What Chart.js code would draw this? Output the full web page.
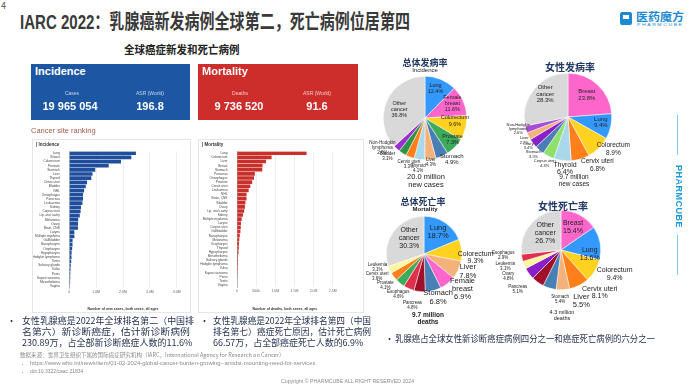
<!DOCTYPE html>
<html>
<head>
<meta charset="utf-8">
<script src="https://cdn.jsdelivr.net/npm/chart.js@4.4.1/dist/chart.umd.min.js"></script>
<style>
  html, body { margin: 0; padding: 0; background: #fff; }
  #slide { position: relative; width: 692px; height: 389px; overflow: hidden; background: #fff;
           font-family: "Noto Sans CJK SC", "Liberation Sans", sans-serif; }
  .t { position: absolute; white-space: nowrap; line-height: 1; z-index: 2; transform-origin: left top; }
  .c { text-align: center; width: 120px; }
  .box { position: absolute; }
  canvas { position: absolute; z-index: 1; }
  .lat { font-family: "Liberation Sans", Arial, sans-serif; }
</style>
</head>
<body>
<div id="slide">
  <div class="t" style="left:1px;top:1px;font-size:9px;color:#555;">4</div>
  <div class="t" data-w="390" style="left:20px;top:11px;font-size:20px;font-weight:bold;color:#3a3a3a;"><span class="lat">IARC 2022</span>：乳腺癌新发病例全球第二，死亡病例位居第四</div>

  <!-- logo -->
  <div class="box" style="left:620px;top:12px;width:12px;height:13px;background:#1b8ad3;border-radius:2px;"></div>
  <div class="box" style="left:623px;top:15px;width:6px;height:4px;background:#fff;"></div>
  <div class="t" data-w="48" style="left:636px;top:11px;font-size:11px;font-weight:bold;color:#1b8ad3;">医药魔方</div>
  <div class="t lat" data-w="46" style="left:637px;top:24px;font-size:3.5px;color:#1b8ad3;letter-spacing:1px;">PHARMCUBE</div>

  <div class="t" data-w="116" style="left:124px;top:44px;font-size:11.5px;font-weight:bold;color:#222;">全球癌症新发和死亡病例</div>

  <!-- headline boxes -->
  <div class="box" style="left:31px;top:64px;width:159px;height:56px;background:#1d57a3;"></div>
  <div class="t lat" style="left:35px;top:66px;font-size:11px;font-weight:bold;color:#fff;">Incidence</div>
  <div class="t lat c" style="left:12px;top:91px;font-size:5px;color:#c9d6ee;">Cases</div>
  <div class="t lat c" style="left:10px;top:101px;font-size:11px;font-weight:bold;color:#fff;">19 965 054</div>
  <div class="t lat c" style="left:90px;top:91px;font-size:5px;color:#c9d6ee;">ASR (World)</div>
  <div class="t lat c" style="left:90px;top:101px;font-size:11px;font-weight:bold;color:#fff;">196.8</div>

  <div class="box" style="left:198px;top:64px;width:160px;height:56px;background:#cd2e2b;"></div>
  <div class="t lat" style="left:202px;top:66px;font-size:11px;font-weight:bold;color:#fff;">Mortality</div>
  <div class="t lat c" style="left:180px;top:91px;font-size:5px;color:#f3c9c6;">Deaths</div>
  <div class="t lat c" style="left:179px;top:101px;font-size:11px;font-weight:bold;color:#fff;">9 736 520</div>
  <div class="t lat c" style="left:257px;top:91px;font-size:5px;color:#f3c9c6;">ASR (World)</div>
  <div class="t lat c" style="left:257px;top:101px;font-size:11px;font-weight:bold;color:#fff;">91.6</div>

  <div class="t lat" style="left:31px;top:127px;font-size:7.5px;color:#a4584c;">Cancer site ranking</div>

  <!-- ranking panels -->
  <div class="box" style="left:32px;top:139px;width:157px;height:172px;border:1px solid #e6e6e6;"></div>
  <div class="box" style="left:198px;top:139px;width:164px;height:172px;border:1px solid #e6e6e6;"></div>
  <div class="t lat" style="left:36px;top:143px;font-size:4.5px;font-weight:bold;color:#333;">| Incidence</div>
  <div class="t lat" style="left:202px;top:143px;font-size:4.5px;font-weight:bold;color:#333;">| Mortality</div>
  <canvas id="incBar" width="152" height="172" style="left:33px;top:140px;width:152px;height:172px;"></canvas>
  <canvas id="mortBar" width="160" height="172" style="left:199px;top:140px;width:160px;height:172px;"></canvas>

  <!-- pie titles -->
  <div class="t c" style="left:365px;top:58px;font-size:9px;font-weight:bold;color:#203864;">总体发病率</div>
  <div class="t lat c" style="left:365px;top:67px;font-size:6px;color:#222;">Incidence</div>
  <div class="t c" style="left:510px;top:62px;font-size:10px;font-weight:bold;color:#203864;">女性发病率</div>
  <div class="t c" style="left:363px;top:197px;font-size:9px;font-weight:bold;color:#203864;">总体死亡率</div>
  <div class="t lat c" style="left:365px;top:206px;font-size:6px;font-weight:bold;color:#222;">Mortality</div>
  <div class="t c" style="left:503px;top:201px;font-size:10px;font-weight:bold;color:#203864;">女性死亡率</div>

  <canvas id="pieAllInc" width="170" height="130"></canvas>
  <canvas id="pieFemInc" width="170" height="130"></canvas>
  <canvas id="pieAllMort" width="170" height="130"></canvas>
  <canvas id="pieFemMort" width="170" height="130"></canvas>

  <div class="t lat c" style="left:366px;top:173px;font-size:7.5px;color:#222;">20.0 million</div>
  <div class="t lat c" style="left:366px;top:181px;font-size:7.5px;color:#222;">new cases</div>
  <div class="t lat c" style="left:514px;top:174px;font-size:6.5px;color:#222;">9.7 million</div>
  <div class="t lat c" style="left:514px;top:181px;font-size:6.5px;color:#222;">new cases</div>
  <div class="t lat c" style="left:368px;top:312px;font-size:6.5px;font-weight:bold;color:#222;">9.7 million</div>
  <div class="t lat c" style="left:368px;top:319px;font-size:6.5px;font-weight:bold;color:#222;">deaths</div>
  <div class="t lat c" style="left:502px;top:310px;font-size:5.5px;color:#222;">4.3 million</div>
  <div class="t lat c" style="left:502px;top:316px;font-size:5.5px;color:#222;">deaths</div>

  <!-- brand strip -->
  <div class="box" style="left:677px;top:115px;width:1px;height:40px;background:#7ec8e8;"></div>
  <div class="t lat" style="left:683px;top:165px;font-size:9px;font-weight:bold;color:#1a9bd7;transform:rotate(90deg);letter-spacing:0.5px;">PHARMCUBE</div>
  <div class="box" style="left:677px;top:235px;width:1px;height:40px;background:#7ec8e8;"></div>

  <!-- bullets -->
  <div class="t" style="left:7px;top:316px;font-size:9px;color:#25324f;">•</div>
  <div class="t" data-w="172" style="left:22px;top:316px;font-size:9px;color:#25324f;">女性乳腺癌是2022年全球排名第二（中国排</div>
  <div class="t" data-w="168" style="left:22px;top:327px;font-size:9px;color:#25324f;">名第六）新诊断癌症，估计新诊断病例</div>
  <div class="t" data-w="170" style="left:22px;top:338px;font-size:9px;color:#25324f;">230.89万，占全部新诊断癌症人数的11.6%</div>
  <div class="t" style="left:200px;top:316px;font-size:9px;color:#25324f;">•</div>
  <div class="t" data-w="158" style="left:213px;top:316px;font-size:9px;color:#25324f;">女性乳腺癌是2022年全球排名第四（中国</div>
  <div class="t" data-w="158" style="left:213px;top:327px;font-size:9px;color:#25324f;">排名第七）癌症死亡原因，估计死亡病例</div>
  <div class="t" data-w="150" style="left:213px;top:338px;font-size:9px;color:#25324f;">66.57万，占全部癌症死亡人数的6.9%</div>
  <div class="t" style="left:385px;top:334px;font-size:9px;color:#25324f;">•</div>
  <div class="t" data-w="260" style="left:395px;top:334px;font-size:9px;color:#25324f;">乳腺癌占全球女性新诊断癌症病例四分之一和癌症死亡病例的六分之一</div>

  <!-- source -->
  <div class="t" data-w="265" style="left:20px;top:353px;font-size:5.5px;color:#8a8a8a;">数据来源：世界卫生组织下属的国际癌症研究机构（IARC，International Agency for Research on Cancer）</div>
  <div class="t" style="left:20px;top:361px;font-size:5px;color:#8a8a8a;">•</div>
  <div class="t lat" data-w="285" style="left:30px;top:361px;font-size:5px;color:#8a8a8a;">https://www.who.int/news/item/01-02-2024-global-cancer-burden-growing--amidst-mounting-need-for-services</div>
  <div class="t" style="left:20px;top:369px;font-size:5px;color:#8a8a8a;">•</div>
  <div class="t lat" style="left:30px;top:369px;font-size:5px;color:#8a8a8a;">doi:10.3322/caac.21834</div>
  <div class="t lat" data-w="133" style="left:281px;top:380px;font-size:4.5px;color:#8a8a8a;">Copyright © PHARMCUBE ALL RIGHT RESERVED 2024</div>
</div>

<script>
// --- ranking bars (GLOBOCAN 2022, both sexes) ---
const incSites = ['Lung', 'Breast', 'Colorectum', 'Prostate', 'Stomach', 'Liver', 'Thyroid', 'Cervix uteri',
  'Bladder', 'NHL', 'Oesophagus', 'Pancreas', 'Leukaemia', 'Kidney', 'Corpus uteri', 'Lip, oral cavity',
  'Melanoma', 'Ovary', 'Brain, CNS', 'Larynx', 'Multiple myeloma', 'Gallbladder', 'Nasopharynx',
  'Oropharynx', 'Hypopharynx', 'Hodgkin lymphoma', 'Testis', 'Salivary glands', 'Vulva', 'Penis',
  'Kaposi sarcoma', 'Mesothelioma', 'Vagina'];
const incCases = [2481000, 2309000, 1926000, 1468000, 968000, 865000, 821000, 661000,
  614000, 553000, 511000, 511000, 487000, 435000, 420000, 390000,
  332000, 325000, 322000, 189000, 188000, 122000, 120000,
  106000, 86000, 82000, 72000, 55000, 47000, 38000,
  35000, 31000, 19000];
const incTicks = ['0', '1.0M', '2.0M', '3.0M', '4.0M'];

const mortSites = ['Lung', 'Colorectum', 'Liver', 'Breast', 'Stomach', 'Pancreas', 'Oesophagus', 'Prostate',
  'Cervix uteri', 'Leukaemia', 'NHL', 'Brain, CNS', 'Bladder', 'Ovary', 'Lip, oral cavity', 'Kidney',
  'Multiple myeloma', 'Larynx', 'Corpus uteri', 'Gallbladder', 'Nasopharynx', 'Melanoma', 'Oropharynx',
  'Thyroid', 'Hypopharynx', 'Mesothelioma', 'Salivary glands', 'Hodgkin lymphoma', 'Vulva',
  'Kaposi sarcoma', 'Penis', 'Testis', 'Vagina'];
const mortDeaths = [1817000, 904000, 758000, 666000, 660000, 467000, 445000, 397000,
  348000, 305000, 250000, 248000, 220000, 207000, 188000, 156000,
  121000, 104000, 98000, 89000, 73000, 59000, 52000,
  48000, 40000, 25000, 25000, 23000, 19000,
  16000, 13000, 9000, 8000];
const mortTicks = ['0', '500k', '1.0M', '1.5M', '2.0M', '2.5M'];

// --- pies (share, %) ---
const allIncNames = ['Lung', 'Female\nbreast', 'Colorectum', 'Prostate', 'Stomach', 'Liver', 'Thyroid',
  'Cervix uteri', 'Bladder', 'Non-Hodgkin\nlymphoma', 'Other\ncancer'];
const allIncShare = [12.4, 11.6, 9.6, 7.3, 4.9, 4.3, 4.1, 3.3, 3.1, 2.6, 36.8];

const femIncNames = ['Breast', 'Lung', 'Colorectum', 'Cervix uteri', 'Thyroid', 'Corpus uteri', 'Stomach',
  'Ovary', 'Liver', 'Non-Hodgkin\nlymphoma', 'Other\ncancer'];
const femIncShare = [23.8, 9.4, 8.9, 6.8, 6.4, 4.3, 3.5, 3.4, 2.7, 2.6, 28.3];

const allMortNames = ['Lung', 'Colorectum', 'Liver', 'Female\nbreast', 'Stomach', 'Pancreas', 'Esophagus',
  'Prostate', 'Cervix uteri', 'Leukemia', 'Other\ncancer'];
const allMortShare = [18.7, 9.3, 7.8, 6.9, 6.8, 4.8, 4.6, 4.1, 3.6, 3.1, 30.3];

const femMortNames = ['Breast', 'Lung', 'Colorectum', 'Cervix uteri', 'Liver', 'Stomach', 'Pancreas',
  'Ovary', 'Leukemia', 'Esophagus', 'Other\ncancer'];
const femMortShare = [15.4, 13.6, 9.4, 8.1, 5.5, 5.4, 5.1, 4.8, 3.1, 2.9, 26.7];

// цвета секторов
const C = {
  lung: '#3399ff', breast: '#ff66cc', colo: '#ffd21f', prostate: '#3cab5a', stomach: '#4a7fb5',
  liver: '#f4b27a', thyroid: '#a8d8ea', cervix: '#ff7f1a', bladder: '#2f9444', nhl: '#9b30d0',
  other: '#d9d9d9', corpus: '#8fe06a', ovary: '#8a1fc9', pancreas: '#a01028', eso: '#e0304e', leuk: '#fff59d'
};
const allIncColors = [C.lung, C.breast, C.colo, C.prostate, C.stomach, C.liver, C.thyroid, C.cervix, C.bladder, C.nhl, C.other];
const femIncColors = [C.breast, C.lung, C.colo, C.cervix, C.thyroid, C.corpus, C.stomach, C.ovary, C.liver, '#a64fd6', C.other];
const allMortColors = [C.lung, C.colo, C.liver, C.breast, C.stomach, C.pancreas, C.eso, C.prostate, C.cervix, C.leuk, C.other];
const femMortColors = [C.breast, C.lung, C.colo, C.cervix, C.liver, C.stomach, C.pancreas, C.ovary, C.leuk, C.eso, C.other];

// label placement: [radius factor, angle shift deg, font px]
const allIncPlace = [[.76,-3,5.5],[.74,-3,5.5],[.72,-8,5.5],[.84,-6,5.5],[1.18,-9,6],[1.08,0,4.5],[1.22,0,4.5],[1.18,-2,4.5],[1.28,12,4.5],[1.25,12,4.5],[.65,-5,5.5]];
const femIncPlace = [[.66,-2,6],[.76,-3,6],[1.27,-10,6.5],[1.29,-15,6.5],[1.18,-4,7],[1.19,0,4],[1.16,2,4],[1.12,1,4],[1.13,-2,4],[1.17,3,4],[.74,6,6]];
const allMortPlace = [[.69,-1,7.5],[1.37,10,7],[1.25,-3,7.5],[1.38,-9,7.5],[1.21,-4,7.5],[1.38,6,4.5],[1.26,9,4.5],[1.31,12,4.5],[1.38,11,4.5],[1.28,9,4.5],[.58,12,7]];
const femMortPlace = [[.65,0,7],[.73,18,7],[1.48,-7,7],[1.45,-15,7],[1.38,-19,7.5],[1.23,-16,4.5],[1.47,12,4.5],[1.48,10,4.5],[1.46,6,4.5],[1.46,6,4.5],[.58,5,7]];

const pieLabels = {
  id: 'pieLabels',
  afterDatasetsDraw(chart, args, opts) {
    const { ctx } = chart;
    const arcs = chart.getDatasetMeta(0).data;
    const names = chart.data.labels;
    const vals = chart.data.datasets[0].data;
    arcs.forEach((arc, i) => {
      const [f, shift, size] = opts.place[i];
      const a = (arc.startAngle + arc.endAngle) / 2 + shift * Math.PI / 180;
      const x = arc.x + Math.cos(a) * arc.outerRadius * f;
      const y = arc.y + Math.sin(a) * arc.outerRadius * f;
      const lines = (names[i] + '\n' + vals[i].toFixed(1) + '%').split('\n');
      const lh = size * 1.1;
      ctx.save();
      ctx.font = `${size}px "Liberation Sans", Arial, sans-serif`;
      ctx.fillStyle = '#222';
      ctx.textAlign = 'center';
      ctx.textBaseline = 'middle';
      lines.forEach((t, k) => ctx.fillText(t, x, y + (k - (lines.length - 1) / 2) * lh));
      ctx.restore();
    });
  }
};

function makePie(id, names, shares, colors, place, cx, cy, r) {
  const el = document.getElementById(id);
  el.style.left = (cx - 85) + 'px';
  el.style.top = (cy - 62) + 'px';
  el.style.width = '170px';
  el.style.height = '130px';
  return new Chart(el.getContext('2d'), {
    type: 'pie',
    data: { labels: names, datasets: [{ data: shares, backgroundColor: colors, borderColor: '#fff', borderWidth: 0.5 }] },
    options: {
      responsive: false,
      animation: false,
      layout: { padding: { left: 85 - r, right: 85 - r, top: 62 - r, bottom: 68 - r } },
      plugins: { legend: { display: false }, tooltip: { enabled: false }, pieLabels: { place: place } }
    },
    plugins: [pieLabels]
  });
}

function makeBar(id, sites, values, ticks, max, step, color, title, pad, yWidth, xHeight) {
  const ctx = document.getElementById(id).getContext('2d');
  return new Chart(ctx, {
    type: 'bar',
    data: { labels: sites, datasets: [{ data: values, backgroundColor: color, barPercentage: 0.88, categoryPercentage: 1 }] },
    options: {
      indexAxis: 'y',
      responsive: false,
      animation: false,
      layout: { padding: pad },
      plugins: { legend: { display: false }, tooltip: { enabled: false } },
      scales: {
        x: {
          min: 0, max: max,
          ticks: { stepSize: step, callback: (v, i) => ticks[i], font: { size: 3.5, family: 'Liberation Sans' }, color: '#666', maxRotation: 0, padding: 2 },
          grid: { color: '#e3e3e3', lineWidth: 0.6, drawTicks: false },
          border: { display: false },
          title: { display: true, text: title, font: { size: 3.5, weight: 'bold', family: 'Liberation Sans' }, color: '#333', padding: 1 },
          afterFit: s => { s.height = xHeight; }
        },
        y: {
          ticks: { font: { size: 3.2, family: 'Liberation Sans' }, color: '#444', autoSkip: false, padding: 1.5 },
          grid: { display: false },
          border: { color: '#999', width: 0.6 },
          afterFit: s => { s.width = yWidth; }
        }
      }
    }
  });
}

makeBar('incBar', incSites, incCases, incTicks, 4000000, 1000000, '#1f4e9c',
  'Number of new cases, both sexes, all ages', { top: 11.2, right: 8.3, left: 0, bottom: 0 }, 36.3, 23.8);
makeBar('mortBar', mortSites, mortDeaths, mortTicks, 2500000, 500000, '#c9302c',
  'Number of deaths, both sexes, all ages', { top: 11.25, right: 26.3, left: 0, bottom: 0 }, 38, 24.9);

makePie('pieAllInc', allIncNames, allIncShare, allIncColors, allIncPlace, 425, 118, 42);
makePie('pieFemInc', femIncNames, femIncShare, femIncColors, femIncPlace, 568, 117, 44);
makePie('pieAllMort', allMortNames, allMortShare, allMortColors, allMortPlace, 424, 254, 38);
makePie('pieFemMort', femMortNames, femMortShare, femMortColors, femMortPlace, 561, 250, 40);

// подгоняем ширину текстов
document.querySelectorAll('[data-w]').forEach(el => {
  const w = +el.dataset.w;
  const sw = el.scrollWidth;
  if (sw > 0) el.style.transform = `scaleX(${w / sw})`;
});
</script>
</body>
</html>
